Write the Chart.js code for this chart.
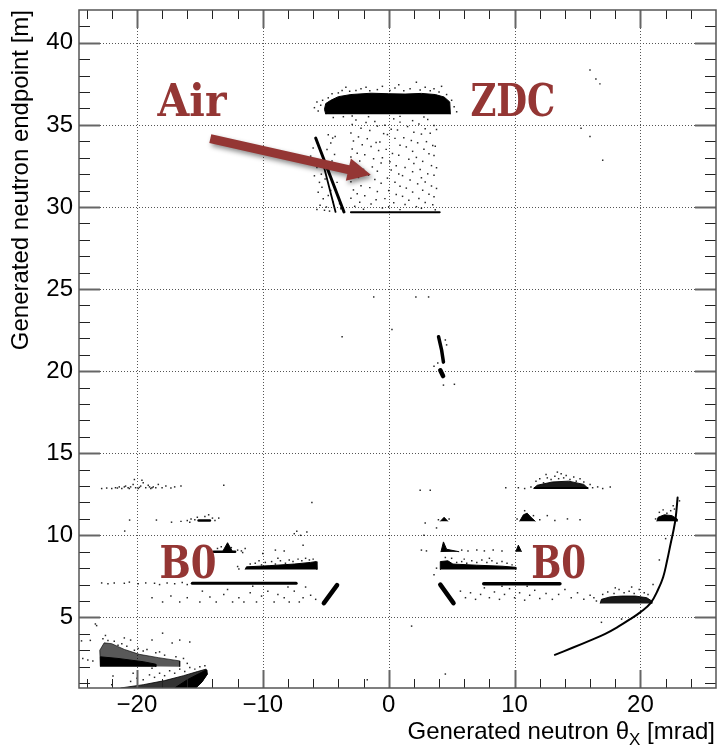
<!DOCTYPE html>
<html>
<head>
<meta charset="utf-8">
<script src="https://cdn.jsdelivr.net/npm/chart.js@4.4.1/dist/chart.umd.min.js"></script>
<style>
  html, body { margin: 0; padding: 0; background: #fff; }
  #wrap { width: 720px; height: 746px; }
</style>
</head>
<body>
<div id="wrap"><canvas id="c" width="720" height="746"></canvas></div>
<script>
// axis ticks
const xMajor = [-20, -10, 0, 10, 20];
const xLabels = ['\u221220', '\u221210', '0', '10', '20'];
const yMajor = [5, 10, 15, 20, 25, 30, 35, 40];
const yLabels = ['5', '10', '15', '20', '25', '30', '35', '40'];

// ---- ZDC region ----
const zdcBand = [[-5.0,35.65],[-5.1,35.95],[-5.0,36.3],[-4.6,36.5],[-4.0,36.72],[-3.0,36.85],[-1.4,36.93],[0,36.9],[1.3,36.88],[2.6,36.92],[3.7,36.85],[4.4,36.7],[4.85,36.4],[4.9,35.65]];
const zdcFringe = [[-5.9,36.05],[-5.6,35.85],[-5.4,36.2],[-5.7,36.4],[-5.25,36.5],[-4.8,36.65],[-4.5,36.9],[-4.0,36.95],[-3.7,37.1],[-3.4,37.3],[-3.1,37.05],[-2.6,37.1],[-2.2,37.2],[-1.8,37.3],[-1.5,37.08],[-0.9,37.15],[-0.5,37.35],[0.1,37.1],[0.5,37.25],[0.8,37.45],[1.2,37.08],[1.7,37.2],[2.2,37.6],[2.5,37.12],[2.9,37.3],[3.3,37.08],[3.6,37.2],[4.0,37.0],[4.2,37.35],[4.6,36.85],[5.0,36.5],[5.2,36.1],[5.4,35.8],[-4.4,35.45],[-3.6,35.5],[-2.9,35.55],[-1.6,35.5],[0.9,35.52],[2.8,35.48]];
const airDots = [
  [-2.6,35.3],[-1.1,35.21],[0.4,35.37],[1.9,35.26],[3.1,35.33],
  [-2.9,35.02],[-1.8,35.14],[-0.3,34.98],[0.9,35.17],[2.4,35.06],[3.6,34.97],
  [-2.2,34.79],[-0.9,34.93],[0.2,34.74],[1.5,34.9],[2.9,34.77],
  [-3.0,34.51],[-1.5,34.66],[-0.4,34.47],[0.7,34.69],[2.0,34.55],[3.3,34.49],[3.8,34.72],
  [-2.4,34.27],[-0.1,34.41],[1.2,34.22],[2.6,34.44],
  [-2.8,34.02],[-1.7,34.16],[-0.7,33.96],[0.5,34.18],[1.8,34.05],[3.0,33.98],
  [-2.1,33.79],[-1.0,33.93],[0.9,33.76],[2.3,33.91],[3.5,33.74],
  [-2.9,33.54],[-1.4,33.69],[-0.2,33.51],[1.4,33.66],[2.8,33.52],[3.7,33.7],
  [-2.5,33.28],[-0.8,33.44],[0.3,33.26],[1.9,33.39],[3.2,33.24],
  [-3.0,33.05],[-1.9,33.18],[-0.5,33.0],[0.8,33.15],[2.2,33.02],[3.6,33.13],
  [-2.3,32.8],[-1.2,32.94],[0.1,32.76],[1.6,32.91],[2.7,32.78],
  [-2.7,32.54],[-0.6,32.68],[0.6,32.51],[2.0,32.65],[3.4,32.52],
  [-2.0,32.29],[-1.3,32.44],[0.2,32.26],[1.3,32.41],[2.5,32.28],[3.8,32.39],
  [-2.9,32.04],[-0.9,32.18],[0.8,32.01],[1.9,32.15],[3.1,32.02],
  [-2.4,31.8],[-1.6,31.94],[-0.1,31.76],[1.1,31.91],[2.6,31.78],[3.6,31.93],
  [-3.0,31.54],[-1.1,31.68],[0.5,31.51],[1.7,31.65],[2.9,31.52],
  [-2.2,31.29],[-0.6,31.44],[0.9,31.26],[2.3,31.41],[3.4,31.28],
  [-2.8,31.04],[-1.5,31.18],[0.0,31.0],[1.4,31.15],[2.7,31.02],[3.8,31.13],
  [-2.5,30.8],[-0.9,30.94],[0.6,30.76],[1.9,30.91],[3.2,30.78],
  [-3.0,30.54],[-1.9,30.68],[-0.3,30.51],[1.1,30.65],[2.4,30.52],[3.6,30.63],
  [-2.3,30.29],[-1.0,30.44],[0.4,30.26],[1.6,30.41],[2.9,30.28],
  [-2.7,30.04],[-1.4,30.18],[0.0,30.01],[1.3,30.15],[2.2,30.02],[3.5,30.13],
  [-2.0,29.86],[-0.5,29.94],[0.9,29.84],[2.6,29.92],[3.7,29.83]
];
const airFloor = [[-3.0,29.68],[4.05,29.68]];
const streakA = [[-5.8,34.2],[-3.55,29.7]];
const streakB = [[-5.14,32.44],[-4.22,29.7]];
const streakFuzz = [[-6.0,33.6],[-5.85,32.9],[-5.7,32.4],[-5.9,31.9],[-5.5,31.5],[-5.6,30.9],[-5.3,31.2],[-5.2,30.5],[-5.45,30.1],[-4.95,30.0],[-4.8,30.7],[-5.05,31.7],[-4.6,31.0],[-4.4,30.3],[-4.5,32.8],[-4.3,33.2],[-4.6,33.9],[-4.8,34.4],[-4.25,34.3],[-4.45,34.2],[-4.9,33.5],[-5.7,29.85],[-5.1,29.8],[-4.7,29.75],[-6.2,33.1],[-4.1,31.5],[-4.2,32.6],[-5.35,32.0],[-3.9,30.2],[-4.0,30.6],[-3.8,29.9]];

// ---- middle ----
const midStreak = [[3.96,22.1],[4.2,21.3],[4.35,20.55]];
const midBlob = [[4.1,20.05],[4.32,19.7]];
const midDots = [[-1.19,24.52],[2.16,24.52],[3.17,24.52],[0.26,22.54],[-3.7,22.09],[5.22,19.2],[4.35,19.15],[3.9,20.5],[3.6,20.3],[4.6,21.6],[4.5,21.9]];
const farDots = [[15.99,38.35],[16.46,37.8],[16.78,37.5],[15.28,34.8],[15.99,34.3],[17.0,32.85],[1.82,4.47],[4.5,1.55],[-1.7,1.2]];

// ---- left B0 ----
const leftRow13 = [[-22.8,12.85],[-22.4,12.88],[-22.0,12.85],[-21.7,12.9],[-21.4,12.95],[-21.2,12.85],[-20.9,13.0],[-20.7,12.9],[-20.5,12.95],[-20.3,13.1],[-20.1,12.9],[-19.9,12.85],[-19.7,13.0],[-19.5,13.2],[-19.3,12.9],[-19.1,13.05],[-18.9,12.85],[-18.7,12.95],[-18.5,12.9],[-18.3,13.1],[-18.0,12.9],[-17.7,13.0],[-17.3,12.88],[-17.0,12.95],[-16.5,13.0],[-13.1,13.05],[-19.6,13.36],[-20.2,13.4],[-21.0,12.95],[-19.0,12.95],[-21.55,12.88],[-20.6,12.85],[-19.8,12.92],[-18.8,12.9]];
const leftLine11 = [[-15.1,10.9],[-14.2,10.9]];
const leftDots11 = [[-16.5,10.85],[-16.0,10.9],[-15.7,11.0],[-15.4,10.95],[-15.8,10.8],[-14.0,11.05],[-13.8,10.9],[-14.6,11.15],[-14.3,11.25],[-15.2,11.1],[-20.58,10.93],[-18.45,10.93],[-17.25,10.8],[-20.97,10.26],[-13.5,11.05]];
const leftLine9 = [[-13.9,9.0],[-12.2,9.0]];
const leftPeak9 = [[-13.2,9.0],[-12.8,9.55],[-12.4,9.0]];
const leftDots9 = [[-13.6,9.2],[-13.3,9.3],[-12.0,9.1],[-11.7,9.05],[-11.4,9.2],[-11.6,8.95],[-12.5,9.25],[-14.1,9.1],[-7.5,10.1],[-7.3,10.25],[-7.0,10.0],[-6.5,10.2],[-6.1,12.0],[-6.8,9.4],[-9.0,9.1],[-8.3,9.05],[-10.0,8.9]];
const leftBand8 = [[-11.4,7.92],[-11.3,8.08],[-9.5,8.15],[-7.5,8.25],[-6.2,8.35],[-5.75,8.4],[-5.7,7.92]];
const leftDots8 = [[-11.0,8.25],[-10.6,8.3],[-10.1,8.2],[-9.8,8.35],[-9.3,8.4],[-9.0,8.25],[-8.6,8.45],[-8.2,8.3],[-7.9,8.5],[-7.6,8.4],[-7.2,8.55],[-6.9,8.45],[-6.6,8.6],[-6.3,8.5],[-6.0,8.55],[-8.8,8.6],[-10.3,8.45],[-12.0,8.1],[-11.9,7.95]];
const leftLine7 = [[-15.6,7.08],[-7.35,7.08]];
const leftDots7 = [[-22.8,7.1],[-22.3,7.05],[-21.8,7.1],[-21.0,7.08],[-20.6,7.15],[-19.9,7.05],[-19.3,7.1],[-18.6,7.08],[-18.2,7.0],[-17.6,7.1],[-17.0,7.05],[-16.4,7.12],[-16.0,7.0]];
const leftDots6 = [[-18.8,6.2],[-17.96,5.94],[-17.3,6.3],[-16.6,5.94],[-16.0,6.2],[-15.0,5.94],[-14.2,6.25],[-13.7,5.94],[-13.1,6.4],[-12.4,5.94],[-11.9,6.2],[-11.5,5.94],[-11.0,6.5],[-10.5,5.94],[-10.1,6.3],[-9.1,5.94],[-8.8,6.4],[-8.3,6.2],[-7.9,5.94],[-7.5,6.6],[-7.1,5.94],[-6.8,6.2],[-6.2,6.35],[-5.8,6.1],[-9.6,6.6],[-12.8,6.7],[-14.8,6.6],[-10.8,6.9],[-8.0,6.85],[-6.6,6.85]];
const leftDiag = [[-4.1,6.97],[-5.15,5.87]];

// ---- right B0 ----
const rightBand13 = [[11.5,12.85],[11.8,13.05],[13.0,13.25],[14.3,13.3],[15.5,13.1],[15.85,12.85]];
const rightLine13 = [[11.6,12.88],[15.8,12.88]];
const rightDots13 = [[11.3,12.95],[11.7,13.3],[12.0,13.45],[12.3,13.2],[12.6,13.5],[12.9,13.4],[13.2,13.6],[13.5,13.45],[13.7,13.75],[13.9,13.5],[14.1,13.65],[14.4,13.4],[14.7,13.55],[14.9,13.3],[15.2,13.45],[15.5,13.25],[12.5,13.7],[13.4,13.85],[10.3,12.9],[10.8,12.85],[16.2,12.9],[16.6,12.95],[17.0,12.85],[17.6,12.95],[9.3,12.9],[2.5,12.75],[3.3,12.75],[16.0,13.1]];
const rightBlob11 = [[10.4,10.85],[10.7,11.25],[11.0,11.35],[11.3,11.1],[11.65,10.85]];
const farBlob11 = [[21.3,10.85],[21.4,11.1],[21.9,11.25],[22.5,11.2],[22.9,11.0],[22.9,10.85]];
const nearBlob11 = [[4.1,10.85],[4.4,11.1],[4.7,10.85]];
const rightDots11 = [[10.8,11.5],[11.5,11.2],[12.0,10.95],[12.6,11.2],[13.2,10.9],[14.2,11.0],[15.2,10.95],[2.9,10.75],[3.8,10.45],[10.2,11.0],[21.5,11.4],[21.8,11.55],[22.1,11.35],[22.4,11.5],[22.7,11.6],[21.2,11.0],[3.95,10.95],[4.8,11.0]];
const rightPeak9 = [[4.15,8.98],[4.35,9.6],[4.6,9.15],[5.6,9.0]];
const rightPeak9b = [[10.1,9.0],[10.3,9.4],[10.55,9.0]];
const rightDots9 = [[5.8,9.1],[6.3,9.05],[7.0,9.1],[7.6,9.05],[8.3,9.1],[3.0,9.05],[2.8,10.0],[9.0,9.05],[2.6,9.1]];
const rightBand8 = [[4.15,7.92],[4.1,8.4],[4.7,8.45],[5.1,8.25],[7.0,8.18],[9.0,8.12],[10.1,8.05],[10.1,7.92]];
const rightDots8 = [[5.4,8.35],[5.8,8.4],[6.2,8.3],[6.6,8.45],[7.0,8.35],[7.4,8.5],[7.8,8.35],[8.2,8.45],[8.6,8.3],[9.0,8.4],[9.4,8.3],[9.8,8.2],[6.0,8.55],[8.0,8.6],[5.0,8.6],[4.5,8.65],[3.8,8.0],[3.6,7.6]];
const rightLine7 = [[7.55,7.05],[13.6,7.05]];
const rightDiag = [[4.1,7.0],[5.15,5.87]];
const rightDots6 = [[5.7,6.6],[6.1,6.2],[6.5,6.5],[6.9,6.1],[7.3,6.4],[7.6,6.8],[8.0,6.2],[8.4,6.55],[8.8,6.1],[9.2,6.4],[9.6,6.75],[10.0,6.2],[10.4,6.5],[10.8,6.05],[11.2,6.35],[11.6,6.65],[12.0,6.15],[12.5,6.45],[13.0,6.1],[13.5,6.4],[14.0,6.7],[14.5,6.2],[15.0,6.5],[15.5,6.1],[16.0,6.35],[9.0,6.9],[11.0,6.9]];
const rightBand6 = [[16.8,5.85],[16.9,6.1],[17.6,6.25],[18.5,6.3],[19.6,6.3],[20.5,6.2],[20.9,6.0],[20.9,5.85]];
const rightDots6b = [[17.0,6.4],[17.4,6.55],[17.9,6.45],[18.3,6.7],[18.7,6.5],[19.1,6.6],[19.5,6.45],[19.9,6.7],[20.3,6.5],[20.6,6.4],[18.0,6.8],[19.3,6.85],[16.5,6.0],[16.3,6.2]];
const rightCurve = [[13.2,2.72],[14.6,3.15],[16.07,3.62],[17.2,4.0],[18.2,4.42],[19.2,4.9],[20.0,5.32],[20.8,5.87],[21.4,6.7],[21.8,7.45],[22.1,8.4],[22.4,9.5],[22.65,10.4],[22.8,11.1],[22.95,12.3]];
const curveDots = [[16.9,4.7],[18.5,4.9],[21.0,7.0],[21.5,8.5],[22.0,9.8],[22.6,11.8],[23.1,12.1]];

// ---- bottom left ----
const lowUpperBlob = [[-22.9,2.05],[-22.95,3.0],[-22.6,3.45],[-22.0,3.4],[-21.0,3.05],[-19.8,2.75],[-18.3,2.55],[-16.6,2.35],[-16.6,2.0]];
const lowUpperCore = [[-22.9,2.0],[-22.9,2.6],[-21.5,2.5],[-19.5,2.3],[-18.5,2.15],[-18.5,2.0]];
const lowUpperDots = [[-22.7,3.7],[-22.3,3.6],[-21.8,3.55],[-21.5,3.3],[-21.2,3.4],[-20.8,3.25],[-20.5,3.62],[-20.2,3.0],[-19.9,3.1],[-19.5,2.95],[-19.2,3.05],[-18.8,3.62],[-18.5,2.85],[-18.2,2.9],[-17.96,4.04],[-17.8,2.7],[-17.2,3.44],[-16.9,2.6],[-16.6,3.62],[-16.3,2.5],[-15.8,3.5],[-16.0,2.2],[-23.7,3.6],[-23.2,4.5],[-24.4,3.57],[-23.9,2.4],[-24.3,2.5],[-23.5,2.35],[-21.9,1.43],[-23.3,4.6],[-22.5,3.9],[-21.0,3.75]];
const lowWedge = [[-21.3,0.7],[-19.5,0.9],[-17.8,1.15],[-16.3,1.45],[-15.2,1.7],[-14.5,1.85],[-14.4,1.55],[-14.8,1.1],[-15.3,0.7]];
const lowWedgeCore = [[-17,0.7],[-16,1.2],[-15,1.6],[-14.5,1.8],[-14.45,1.5],[-14.9,1.0],[-15.4,0.7]];
const lowWedgeDots = [[-20.5,1.1],[-20.0,1.3],[-19.5,1.2],[-19.0,1.5],[-18.6,1.35],[-18.2,1.6],[-17.8,1.45],[-17.4,1.75],[-17.0,1.6],[-16.6,1.85],[-16.2,1.7],[-15.8,1.95],[-15.4,1.85],[-15.0,2.0],[-14.6,2.05],[-18.8,1.9],[-20.3,1.6],[-22.0,0.9],[-19.9,0.75]];

// annotations
const notes = [
  { text: 'Air', x: -18.36, y: 35.53, w: 69 },
  { text: 'ZDC', x: 6.49, y: 35.53, w: 85 },
  { text: 'B0', x: -18.2, y: 7.39, w: 57 },
  { text: 'B0', x: 11.32, y: 7.39, w: 55 }
];
const arrow = { from: [-14.17, 34.17], to: [-1.42, 31.97] };

const SANS = "'Liberation Sans', Arial, sans-serif";
const RED = 'rgb(148,54,52)';

function dots(data) {
  return { type: 'scatter', data, pointStyle: 'rect', pointRadius: 1.05, backgroundColor: 'rgba(0,0,0,0.85)', borderWidth: 0 };
}
function stroke(data, w, tension) {
  return { type: 'line', data, borderColor: '#000', borderWidth: w, borderCapStyle: 'round', borderJoinStyle: 'round', tension: tension || 0, pointRadius: 0, fill: false };
}
function blob(data, alpha) {
  const c = 'rgba(0,0,0,' + alpha + ')';
  return { type: 'line', data, borderColor: c, backgroundColor: c, borderWidth: 1, borderJoinStyle: 'round', pointRadius: 0, fill: 'shape' };
}

const frame = {
  id: 'frame',
  beforeDatasetsDraw(chart) {
    const { ctx, chartArea: a, scales: { x, y } } = chart;
    ctx.save();
    ctx.strokeStyle = '#555';
    ctx.lineWidth = 1;
    ctx.setLineDash([1, 2]);
    xMajor.forEach(v => {
      const p = Math.round(x.getPixelForValue(v)) + 0.5;
      ctx.beginPath(); ctx.moveTo(p, a.top); ctx.lineTo(p, a.bottom); ctx.stroke();
    });
    yMajor.forEach(v => {
      const p = Math.round(y.getPixelForValue(v)) + 0.5;
      ctx.beginPath(); ctx.moveTo(a.left, p); ctx.lineTo(a.right, p); ctx.stroke();
    });
    ctx.restore();
  },
  afterDatasetsDraw(chart) {
    const { ctx, chartArea: a, scales: { x, y } } = chart;
    ctx.save();
    // ticks
    const tick = (x1, y1, x2, y2, major) => {
      ctx.strokeStyle = major ? '#666' : '#222';
      ctx.lineWidth = major ? 2 : 1;
      ctx.beginPath(); ctx.moveTo(x1, y1); ctx.lineTo(x2, y2); ctx.stroke();
    };
    for (let v = -24; v < 26; v += 2) {
      const major = xMajor.includes(v);
      const p = Math.round(x.getPixelForValue(v)) + 0.5;
      const len = major ? 18 : 9;
      tick(p, a.bottom, p, a.bottom - len, major);
      tick(p, a.top, p, a.top + len, major);
    }
    for (let v = 1; v <= 41; v++) {
      const major = yMajor.includes(v);
      const p = Math.round(y.getPixelForValue(v)) + 0.5;
      const len = major ? 21 : 11;
      tick(a.left, p, a.left + len, p, major);
      tick(a.right, p, a.right - len, p, major);
    }
    ctx.strokeStyle = '#555';
    ctx.lineWidth = 1.5;
    ctx.strokeRect(a.left, a.top, a.right - a.left, a.bottom - a.top);

    // labels on the plot
    ctx.fillStyle = RED;
    ctx.textBaseline = 'alphabetic';
    ctx.textAlign = 'left';
    ctx.font = "bold 45px 'DejaVu Serif', serif";
    notes.forEach(n => {
      const m = ctx.measureText(n.text).width;
      ctx.save();
      ctx.translate(x.getPixelForValue(n.x), y.getPixelForValue(n.y));
      ctx.scale(n.w / m, 1);
      ctx.fillText(n.text, 0, 0);
      ctx.restore();
    });

    // arrow
    const x0 = x.getPixelForValue(arrow.from[0]), y0 = y.getPixelForValue(arrow.from[1]);
    const x1 = x.getPixelForValue(arrow.to[0]), y1 = y.getPixelForValue(arrow.to[1]);
    const ang = Math.atan2(y1 - y0, x1 - x0);
    const L = Math.hypot(x1 - x0, y1 - y0);
    ctx.save();
    ctx.translate(x0, y0);
    ctx.rotate(ang);
    ctx.shadowColor = 'rgba(0,0,0,0.45)';
    ctx.shadowBlur = 5;
    ctx.shadowOffsetX = 2;
    ctx.shadowOffsetY = 3;
    ctx.beginPath();
    ctx.moveTo(0, -4.5);
    ctx.lineTo(L - 23, -4.5);
    ctx.lineTo(L - 23, -11.5);
    ctx.lineTo(L, 0);
    ctx.lineTo(L - 23, 11.5);
    ctx.lineTo(L - 23, 4.5);
    ctx.lineTo(0, 4.5);
    ctx.closePath();
    ctx.fill();
    ctx.restore();
    ctx.restore();
  },
  afterDraw(chart) {
    const { ctx } = chart;
    ctx.save();
    ctx.fillStyle = '#000';
    ctx.textBaseline = 'alphabetic';
    // x title with subscript
    const big = '24px ' + SANS, small = '17px ' + SANS;
    const p1 = 'Generated neutron \u03b8', p2 = 'X', p3 = ' [mrad]';
    ctx.font = big; const w1 = ctx.measureText(p1).width, w3 = ctx.measureText(p3).width;
    ctx.font = small; const w2 = ctx.measureText(p2).width;
    let sx = 715 - (w1 + w2 + w3);
    const base = 739;
    ctx.font = big; ctx.textAlign = 'left';
    ctx.fillText(p1, sx, base); sx += w1;
    ctx.font = small; ctx.fillText(p2, sx, base + 6); sx += w2;
    ctx.font = big; ctx.fillText(p3, sx, base);
    // y title
    ctx.translate(28, 10);
    ctx.rotate(-Math.PI / 2);
    ctx.textAlign = 'right';
    ctx.font = big;
    ctx.fillText('Generated neutron endpoint [m]', 0, 0);
    ctx.restore();
  }
};

new Chart(document.getElementById('c'), {
  type: 'scatter',
  data: {
    datasets: [
      blob(zdcBand, 1), dots(zdcFringe), dots(airDots), stroke(airFloor, 2),
      stroke(streakA, 3), stroke(streakB, 1.8), dots(streakFuzz),
      stroke(midStreak, 3.5), stroke(midBlob, 4.5), dots(midDots), dots(farDots),
      dots(leftRow13), stroke(leftLine11, 2.5), dots(leftDots11),
      stroke(leftLine9, 2.5), blob(leftPeak9, 1), dots(leftDots9),
      blob(leftBand8, 1), dots(leftDots8), stroke(leftLine7, 3), dots(leftDots7), dots(leftDots6),
      stroke(leftDiag, 4.5),
      blob(rightBand13, 0.9), stroke(rightLine13, 2), dots(rightDots13),
      blob(rightBlob11, 1), blob(farBlob11, 1), blob(nearBlob11, 1), dots(rightDots11),
      blob(rightPeak9, 1), blob(rightPeak9b, 1), dots(rightDots9),
      blob(rightBand8, 1), dots(rightDots8), stroke(rightLine7, 3.5), stroke(rightDiag, 4.5),
      dots(rightDots6), blob(rightBand6, 0.9), dots(rightDots6b),
      stroke(rightCurve, 2, 0.4), dots(curveDots),
      blob(lowUpperBlob, 0.65), blob(lowUpperCore, 1), dots(lowUpperDots),
      blob(lowWedge, 0.8), blob(lowWedgeCore, 1), dots(lowWedgeDots)
    ]
  },
  plugins: [frame],
  options: {
    responsive: false,
    animation: false,
    events: [],
    layout: { padding: { top: 10, right: 1, left: 0, bottom: 0 } },
    plugins: { legend: { display: false }, tooltip: { enabled: false } },
    scales: {
      x: {
        type: 'linear', min: -24.6, max: 26,
        grid: { display: false, drawTicks: false },
        border: { display: false },
        afterBuildTicks: s => { s.ticks = xMajor.map(v => ({ value: v })); },
        afterFit: s => { s.height = 58; s.paddingLeft = 0; s.paddingRight = 0; },
        ticks: {
          autoSkip: false, maxRotation: 0, padding: 3, color: '#000',
          font: { family: SANS, size: 24 },
          callback: (v, i) => xLabels[i]
        }
      },
      y: {
        type: 'linear', min: 0.7, max: 42,
        grid: { display: false, drawTicks: false },
        border: { display: false },
        afterBuildTicks: s => { s.ticks = yMajor.map(v => ({ value: v })); },
        afterFit: s => { s.width = 79; s.paddingTop = 0; s.paddingBottom = 0; },
        ticks: {
          autoSkip: false, padding: 6, color: '#000',
          font: { family: SANS, size: 24 },
          callback: (v, i) => yLabels[i]
        }
      }
    }
  }
});
</script>
</body>
</html>
